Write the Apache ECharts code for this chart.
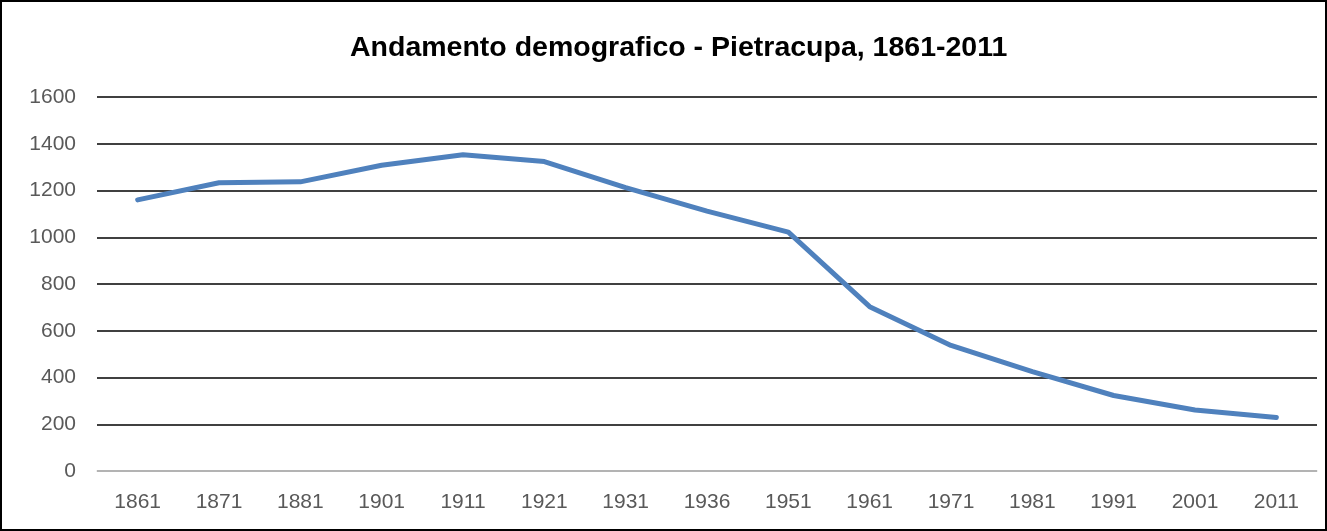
<!DOCTYPE html>
<html>
<head>
<meta charset="utf-8">
<script src="https://cdn.jsdelivr.net/npm/echarts@6/dist/echarts.min.js"></script>
<style>
  html, body { margin: 0; padding: 0; background: #fff; }
  #frame { width: 1327px; height: 531px; box-sizing: border-box; border: 2px solid #000; }
  #cht { width: 100%; height: 100%; }
</style>
</head>
<body>
<div id="frame"><div id="cht"></div></div>
<script>
const years = ['1861', '1871', '1881', '1901', '1911', '1921', '1931', '1936',
  '1951', '1961', '1971', '1981', '1991', '2001', '2011'];
const population = [1160, 1233, 1237, 1308, 1353, 1324, 1212, 1112,
  1022, 703, 537, 425, 323, 261, 229];

const cht = echarts.init(document.getElementById('cht'));

const option = {
  animation: false,
  title: {
    text: 'Andamento demografico - Pietracupa, 1861-2011',
    left: 348,
    top: 32,
    padding: 0,
    textStyle: {
      fontFamily: 'Liberation Sans',
      fontSize: 28.5,
      fontWeight: 'bold',
      color: '#000',
    },
  },
  grid: {
    left: 95,
    right: 8,
    top: 95,
    bottom: 58,
  },
  xAxis: {
    type: 'category',
    data: years,
    z: 5,
    axisLine: { lineStyle: { color: '#d9d9d9', width: 1.5 } },
    axisTick: { show: false },
    axisLabel: {
      margin: 21,
      color: '#595959',
      fontFamily: 'Liberation Sans',
      fontSize: 21,
    },
  },
  yAxis: {
    type: 'value',
    min: 0,
    max: 1600,
    interval: 200,
    axisLine: { show: false },
    axisTick: { show: false },
    axisLabel: {
      margin: 21,
      color: '#595959',
      fontFamily: 'Liberation Sans',
      fontSize: 21,
      formatter: (v) => String(v),
    },
    splitLine: { lineStyle: { color: '#000', width: 1.5 } },
  },
  series: [
    {
      type: 'line',
      data: population,
      showSymbol: false,
      lineStyle: { color: '#4f81bd', width: 5, cap: 'round', join: 'round' },
    },
  ],
};

cht.setOption(option);
</script>
</body>
</html>
